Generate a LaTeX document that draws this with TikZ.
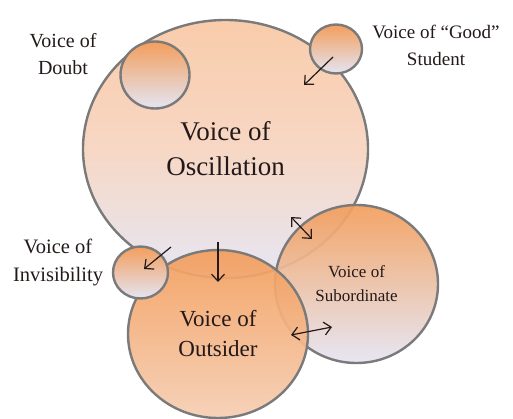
\documentclass[tikz,border=0pt]{standalone}
\usepackage{fontspec}
\setmainfont{Liberation Serif}
\usetikzlibrary{shapes.geometric,arrows.meta}
\definecolor{orng}{RGB}{243,158,92}
\definecolor{peach}{RGB}{249,200,164}
\definecolor{peachmid}{RGB}{246,212,192}
\definecolor{lav}{RGB}{228,229,243}
\definecolor{edgegray}{RGB}{122,122,122}
\definecolor{ink}{RGB}{35,25,25}
\begin{document}
\begin{tikzpicture}[x=1pt,y=-1pt,
  bubble/.style={ellipse,draw=edgegray,line width=2.4pt,inner sep=0pt,outer sep=0pt,
    fill opacity=0.93,text opacity=1,align=center,text=ink},
  smallbubble/.style={bubble,fill opacity=1,top color=orng,bottom color=lav},
  lbl/.style={align=center,text=ink,inner sep=0pt},
  arr/.style={ink,line width=1.2pt,-{Straight Barb[length=7pt,width=13pt]}},
  darr/.style={ink,line width=1.2pt,{Straight Barb[length=7pt,width=13pt]}-{Straight Barb[length=7pt,width=13pt]}}]
\useasboundingbox (0,0) rectangle (513,419);

% big circle
\node[bubble,minimum width=285pt,minimum height=258pt,
  top color=peach,bottom color=lav,middle color=peachmid,
  font=\fontsize{27}{35}\selectfont] (osc) at (225.5,149) {Voice of\\Oscillation};

% subordinate
\node[bubble,minimum width=163pt,minimum height=158pt,
  top color=orng,bottom color=lav,
  font=\fontsize{17}{24}\selectfont] (sub) at (356.5,284) {Voice of\\Subordinate};

% outsider
\node[bubble,minimum width=180pt,minimum height=168pt,
  top color=orng,bottom color=peach!80!lav,
  font=\fontsize{23}{30}\selectfont] (out) at (218,334) {Voice of\\Outsider};

% small circles
\node[smallbubble,minimum width=69pt,minimum height=67pt] (doubt) at (155,75) {};
\node[smallbubble,minimum width=52pt,minimum height=49pt] (good) at (336,49) {};
\node[smallbubble,minimum width=55pt,minimum height=52pt] (invis) at (140.5,272.5) {};

% labels
\node[lbl,font=\fontsize{20}{27}\selectfont] (ldoubt) at (63,54) {Voice of\\Doubt};
\node[lbl,font=\fontsize{19}{27}\selectfont] (lgood) at (436,45) {Voice of ``Good''\\Student};
\node[lbl,font=\fontsize{20.5}{28}\selectfont] (linvis) at (58,262) {Voice of\\Invisibility};

% arrow end points
\coordinate (g1) at (333,57);
\coordinate (g2) at (304,85);
\coordinate (i1) at (171,247);
\coordinate (i2) at (144,269);
\coordinate (d1) at (218,242);
\coordinate (d2) at (218,282);
\coordinate (s1) at (291,217);
\coordinate (s2) at (312,239);
\coordinate (o1) at (291,335);
\coordinate (o2) at (332,327);

\draw[arr] (g1) -- (g2);
\draw[arr] (i1) -- (i2);
\draw[arr] (d1) -- (d2);
\draw[darr] (s1) -- (s2);
\draw[darr] (o1) -- (o2);
\end{tikzpicture}
\end{document}
